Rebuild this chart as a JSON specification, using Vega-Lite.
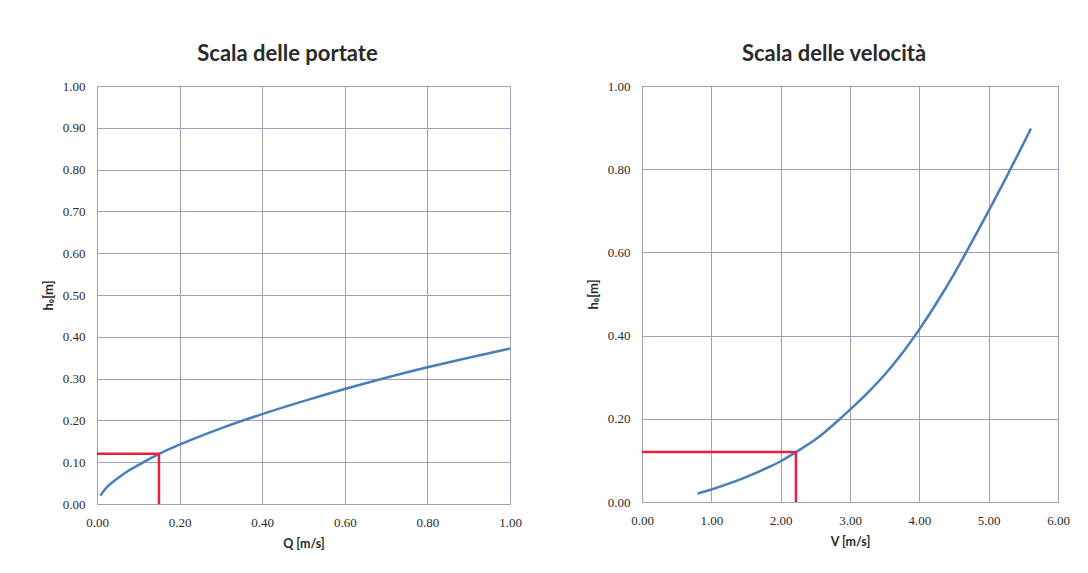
{
  "$schema": "https://vega.github.io/schema/vega-lite/v6.json",
  "background": "white",
  "padding": {"left": 41, "top": 42, "right": 5, "bottom": 5},
  "spacing": 64,
  "datasets": {
    "q": [
      {"Q": 0.008, "h": 0.02}, {"Q": 0.02, "h": 0.036}, {"Q": 0.04, "h": 0.054},
      {"Q": 0.06, "h": 0.069}, {"Q": 0.08, "h": 0.082}, {"Q": 0.1, "h": 0.093},
      {"Q": 0.15, "h": 0.12}, {"Q": 0.2, "h": 0.142}, {"Q": 0.3, "h": 0.181},
      {"Q": 0.4, "h": 0.215}, {"Q": 0.5, "h": 0.246}, {"Q": 0.6, "h": 0.275},
      {"Q": 0.7, "h": 0.302}, {"Q": 0.8, "h": 0.327}, {"Q": 0.9, "h": 0.35},
      {"Q": 1.0, "h": 0.372}
    ],
    "v": [
      {"V": 0.8, "h": 0.02}, {"V": 1.0, "h": 0.03}, {"V": 1.25, "h": 0.044},
      {"V": 1.5, "h": 0.06}, {"V": 1.75, "h": 0.078}, {"V": 2.0, "h": 0.098},
      {"V": 2.22, "h": 0.12}, {"V": 2.5, "h": 0.15}, {"V": 2.83, "h": 0.196},
      {"V": 3.0, "h": 0.222}, {"V": 3.25, "h": 0.262}, {"V": 3.5, "h": 0.306},
      {"V": 3.75, "h": 0.357}, {"V": 4.0, "h": 0.415}, {"V": 4.25, "h": 0.479},
      {"V": 4.5, "h": 0.548}, {"V": 4.75, "h": 0.623}, {"V": 5.0, "h": 0.7},
      {"V": 5.25, "h": 0.779}, {"V": 5.5, "h": 0.861}, {"V": 5.61, "h": 0.898}
    ],
    "qref": [
      {"x1": 0, "y1": 0.12, "x2": 0.15, "y2": 0.12},
      {"x1": 0.15, "y1": 0, "x2": 0.15, "y2": 0.12}
    ],
    "vref": [
      {"x1": 0, "y1": 0.12, "x2": 2.22, "y2": 0.12},
      {"x1": 2.22, "y1": 0, "x2": 2.22, "y2": 0.12}
    ]
  },
  "hconcat": [
    {
      "width": 413,
      "height": 418,
      "title": {"text": "Scala delle portate", "dx": -16},
      "layer": [
        {
          "data": {"name": "q"},
          "mark": {"type": "line", "color": "#4a7ebb", "strokeWidth": 2.5, "clip": true, "interpolate": "monotone"},
          "encoding": {
            "x": {"field": "Q", "type": "quantitative", "scale": {"domain": [0, 1]},
                  "axis": {"values": [0, 0.2, 0.4, 0.6, 0.8, 1.0], "format": ".2f", "title": "Q [m/s]"}},
            "y": {"field": "h", "type": "quantitative", "scale": {"domain": [0, 1]},
                  "axis": {"values": [0, 0.1, 0.2, 0.3, 0.4, 0.5, 0.6, 0.7, 0.8, 0.9, 1.0], "format": ".2f", "title": "h₀[m]"}}
          }
        },
        {
          "data": {"name": "qref"},
          "mark": {"type": "rule", "color": "#e3213f", "strokeWidth": 2.5},
          "encoding": {
            "x": {"field": "x1", "type": "quantitative"},
            "x2": {"field": "x2"},
            "y": {"field": "y1", "type": "quantitative"},
            "y2": {"field": "y2"}
          }
        }
      ]
    },
    {
      "width": 416,
      "height": 416,
      "title": {"text": "Scala delle velocità", "dx": -16},
      "layer": [
        {
          "data": {"name": "v"},
          "mark": {"type": "line", "color": "#4a7ebb", "strokeWidth": 2.5, "clip": true, "interpolate": "monotone"},
          "encoding": {
            "x": {"field": "V", "type": "quantitative", "scale": {"domain": [0, 6]},
                  "axis": {"values": [0, 1, 2, 3, 4, 5, 6], "format": ".2f", "title": "V [m/s]"}},
            "y": {"field": "h", "type": "quantitative", "scale": {"domain": [0, 1]},
                  "axis": {"values": [0, 0.2, 0.4, 0.6, 0.8, 1.0], "format": ".2f", "title": "h₀[m]"}}
          }
        },
        {
          "data": {"name": "vref"},
          "mark": {"type": "rule", "color": "#e3213f", "strokeWidth": 2.5},
          "encoding": {
            "x": {"field": "x1", "type": "quantitative"},
            "x2": {"field": "x2"},
            "y": {"field": "y1", "type": "quantitative"},
            "y2": {"field": "y2"}
          }
        }
      ]
    }
  ],
  "config": {
    "view": {"stroke": "#a0a0bc", "strokeWidth": 1},
    "title": {"font": "Lato", "fontSize": 22, "fontWeight": "bold", "color": "#2a2a2a", "offset": 14, "anchor": "middle"},
    "axis": {
      "grid": true,
      "gridColor": "#a0a0bc",
      "gridWidth": 1,
      "gridOpacity": 1,
      "domainColor": "#a0a0bc",
      "ticks": false,
      "labelFlush": false,
      "labelFont": "Liberation Serif",
      "labelFontSize": 13,
      "labelColor": "#2a2a2a",
      "titleFont": "Lato",
      "titleFontSize": 12.5,
      "titleFontWeight": "bold",
      "titleColor": "#2a2a2a"
    },
    "axisX": {"labelPadding": 12, "titlePadding": 8},
    "axisY": {"labelPadding": 12, "titlePadding": 7, "titleFontSize": 13}
  }
}
